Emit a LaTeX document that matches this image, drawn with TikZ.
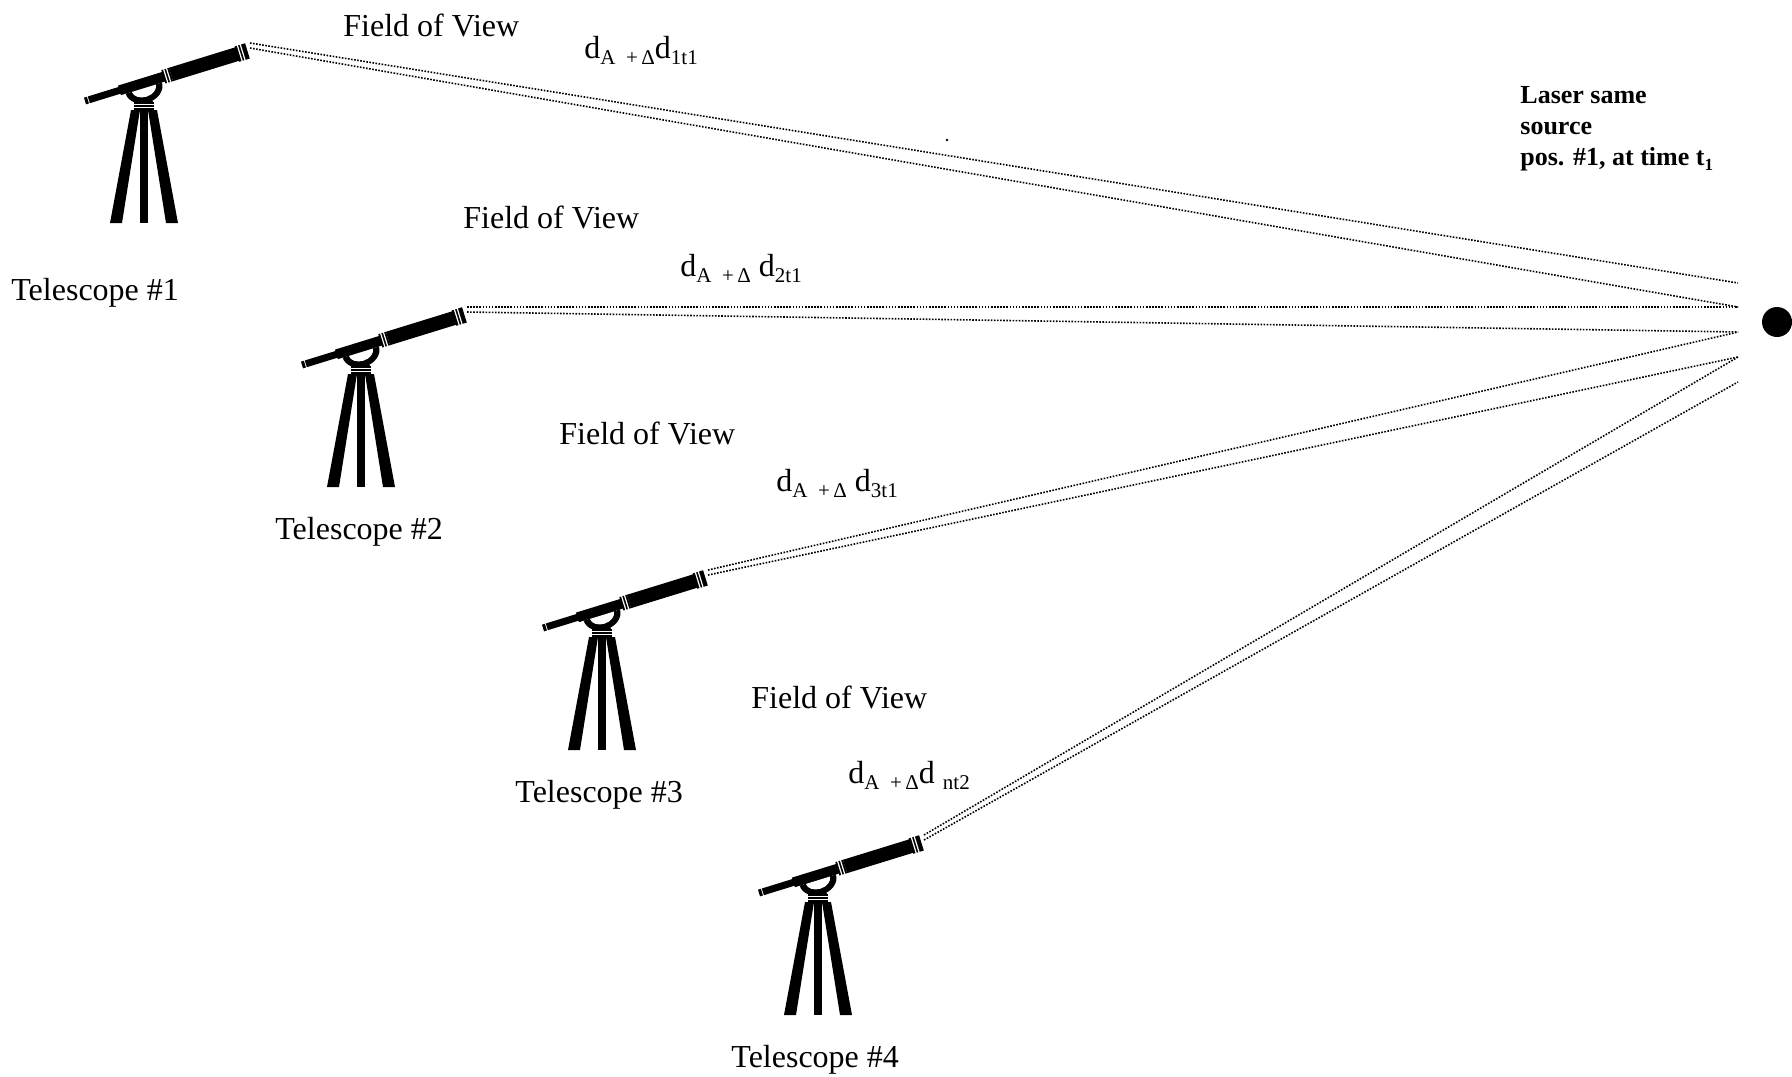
\documentclass[tikz,border=0pt]{standalone}
\usepackage{fontspec}
\setmainfont{Liberation Serif}

% small lowered text used in the distance labels
\newcommand\lowtxt[1]{\raisebox{-0.2em}{\fontsize{10.5}{12}\selectfont #1}}
% smaller index for the bold source note
\newcommand\lowidx[1]{\raisebox{-0.2em}{\fontsize{8.5}{10}\selectfont #1}}

% one telescope on its tripod; #1 = name prefix, #2 = top of the collar
\newcommand\telescopeicon[2]{%
  \begin{scope}[shift={#2}]
    % tube, drawn along its own axis
    \begin{scope}[shift={(-59,-1)}, rotate=17.15]
      \begin{scope}
        \clip (35,5) rectangle (85,30);
        \fill (60,5) ellipse [x radius=19, y radius=15];
        \fill[white] (60,5) ellipse [x radius=12.5, y radius=9];
      \end{scope}
      \fill (0,-3.5) rectangle (3,3.5);
      \fill (4,-3.5) rectangle (38,3.5);
      \fill (36,-5) rectangle (83,5);
      \fill (82,-7) rectangle (90,7);
      \fill (90,-7) rectangle (160,7);
      \fill (159,-8) rectangle (170,8);
      \draw[ring] (84.5,-8) -- (84.5,8) (87.5,-8) -- (87.5,8)
                  (162,-9) -- (162,9) (165,-9) -- (165,9);
    \end{scope}
    % stem and collar
    \fill (-7,-4) -- (7,-4) -- (9,0) -- (-9,0) -- cycle;
    \fill (-10,0) rectangle (10,8);
    \draw[white, line width=0.5pt] (-10,2.5) -- (10,2.5) (-10,5.5) -- (10,5.5);
    % tripod legs
    \fill (-13,8) -- (-4,8) -- (-22,121) -- (-34,121) -- cycle;
    \fill (-4,8) -- (4,8) -- (4,121) -- (-4,121) -- cycle;
    \fill (4,8) -- (13,8) -- (34,121) -- (22,121) -- cycle;
    % where the two sight lines leave the objective
    \coordinate (#1a) at (106,-59);
    \coordinate (#1b) at (106,-54);
  \end{scope}}

\begin{document}
\begin{tikzpicture}[x=0.5pt, y=-0.5pt,
  ring/.style={white, line width=0.6pt},
  ray/.style={black, line width=0.8pt, dash pattern=on 0.8pt off 0.75pt},
  lbl/.style={anchor=base west, inner sep=0pt, font=\fontsize{16}{19}\selectfont},
  note/.style={anchor=north west, inner sep=0pt, align=left,
    font=\bfseries\fontsize{13}{15.4}\selectfont}]
  \useasboundingbox (0,0) rectangle (1792,1076);

  % telescopes
  \telescopeicon{t1}{(144,102)}
  \telescopeicon{t2}{(361,366)}
  \telescopeicon{t3}{(602,629)}
  \telescopeicon{t4}{(818,894)}

  % ends of the sight lines next to the source
  \coordinate (f1) at (1738,283);
  \coordinate (f2) at (1738,307);
  \coordinate (f3) at (1738,332);
  \coordinate (f4) at (1738,357);
  \coordinate (f5) at (1738,382);

  % laser source
  \fill (1777,322) circle [radius=15];
  \fill (947,140) circle [radius=1.3];

  % sight lines
  \draw[ray] (t1a) -- (f1);
  \draw[ray] (t1b) -- (f2);
  \draw[ray] (t2a) -- (f2);
  \draw[ray] (t2b) -- (f3);
  \draw[ray] (t3a) -- (f3);
  \draw[ray] (t3b) -- (f4);
  \draw[ray] (t4a) -- (f4);
  \draw[ray] (t4b) -- (f5);

  % telescope names
  \node[lbl] (n1) at (11,300) {Telescope \#1};
  \node[lbl] (n2) at (275,539) {Telescope \#2};
  \node[lbl] (n3) at (515,802) {Telescope \#3};
  \node[lbl] (n4) at (731,1067) {Telescope \#4};

  % field of view labels
  \node[lbl] (v1) at (343,36) {Field of View};
  \node[lbl] (v2) at (463,228) {Field of View};
  \node[lbl] (v3) at (559,444) {Field of View};
  \node[lbl] (v4) at (751,708) {Field of View};

  % distance labels
  \node[lbl] (d1) at (584,58) {d\lowtxt{A\enspace+\,Δ}d\lowtxt{1t1}};
  \node[lbl] (d2) at (680,276) {d\lowtxt{A\enspace+\,Δ} d\lowtxt{2t1}};
  \node[lbl] (d3) at (776,491) {d\lowtxt{A\enspace+\,Δ} d\lowtxt{3t1}};
  \node[lbl] (d4) at (848,783) {d\lowtxt{A\enspace+\,Δ}d \lowtxt{nt2}};

  % source description
  \node[note] (src) at (1520,86) {Laser same\\source\\pos. \#1, at time t\lowidx{1}};
\end{tikzpicture}
\end{document}
